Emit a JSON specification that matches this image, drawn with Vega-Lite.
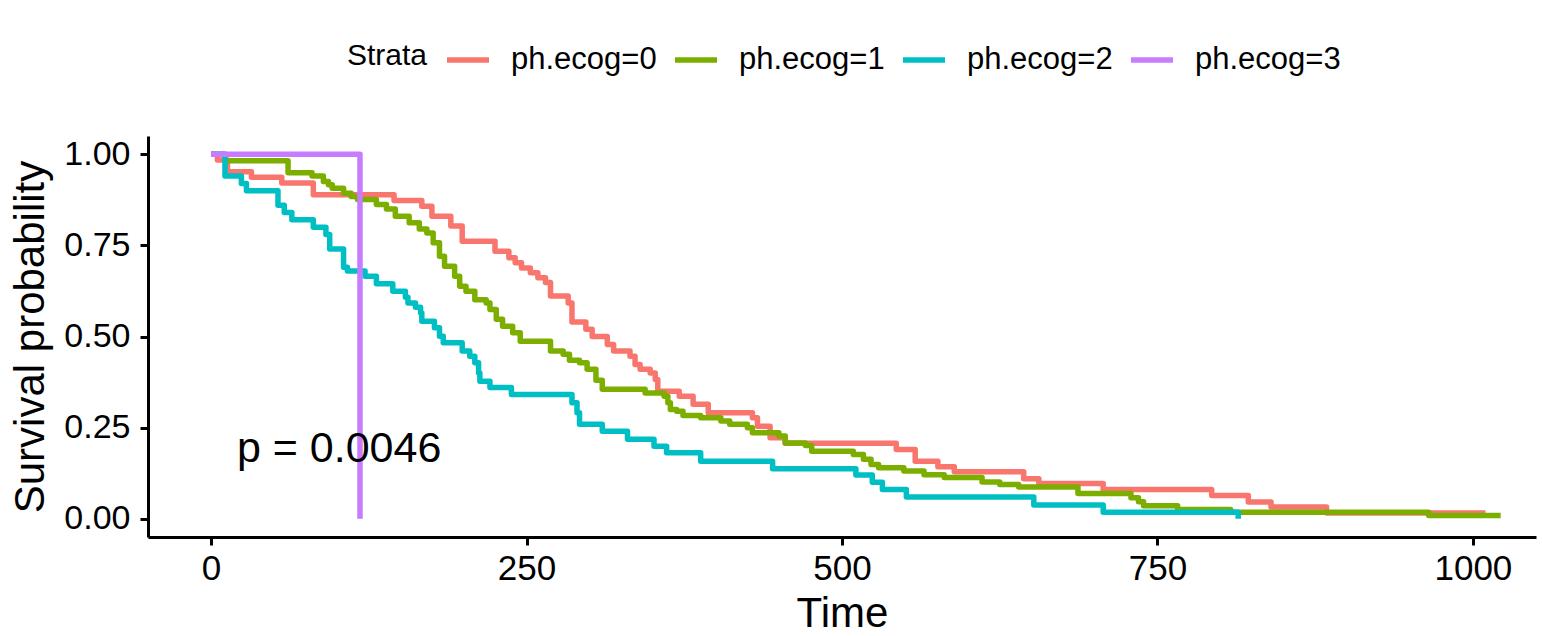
{
  "$schema": "https://vega.github.io/schema/vega-lite/v6.json",
  "width": 1388,
  "height": 401,
  "autosize": {"type": "none"},
  "padding": {"left": 148, "top": 136, "right": 6, "bottom": 99},
  "background": "white",
  "config": {"view": {"stroke": null}, "font": "Liberation Sans"},
  "datasets": {
    "km": [
      {"strata": "ph.ecog=0", "time": 0, "surv": 1},
      {"strata": "ph.ecog=0", "time": 5, "surv": 0.984},
      {"strata": "ph.ecog=0", "time": 13, "surv": 0.952},
      {"strata": "ph.ecog=0", "time": 32, "surv": 0.937},
      {"strata": "ph.ecog=0", "time": 56, "surv": 0.921},
      {"strata": "ph.ecog=0", "time": 81, "surv": 0.889},
      {"strata": "ph.ecog=0", "time": 145, "surv": 0.873},
      {"strata": "ph.ecog=0", "time": 167, "surv": 0.857},
      {"strata": "ph.ecog=0", "time": 175, "surv": 0.83},
      {"strata": "ph.ecog=0", "time": 190, "surv": 0.803},
      {"strata": "ph.ecog=0", "time": 199, "surv": 0.761},
      {"strata": "ph.ecog=0", "time": 225, "surv": 0.734},
      {"strata": "ph.ecog=0", "time": 236, "surv": 0.716},
      {"strata": "ph.ecog=0", "time": 241, "surv": 0.702},
      {"strata": "ph.ecog=0", "time": 246, "surv": 0.688},
      {"strata": "ph.ecog=0", "time": 253, "surv": 0.675},
      {"strata": "ph.ecog=0", "time": 259, "surv": 0.661},
      {"strata": "ph.ecog=0", "time": 265, "surv": 0.648},
      {"strata": "ph.ecog=0", "time": 269, "surv": 0.611},
      {"strata": "ph.ecog=0", "time": 283, "surv": 0.592},
      {"strata": "ph.ecog=0", "time": 286, "surv": 0.54},
      {"strata": "ph.ecog=0", "time": 297, "surv": 0.52},
      {"strata": "ph.ecog=0", "time": 302, "surv": 0.5},
      {"strata": "ph.ecog=0", "time": 314, "surv": 0.478},
      {"strata": "ph.ecog=0", "time": 319, "surv": 0.46},
      {"strata": "ph.ecog=0", "time": 332, "surv": 0.446},
      {"strata": "ph.ecog=0", "time": 336, "surv": 0.423},
      {"strata": "ph.ecog=0", "time": 340, "surv": 0.41},
      {"strata": "ph.ecog=0", "time": 348, "surv": 0.4},
      {"strata": "ph.ecog=0", "time": 352, "surv": 0.382},
      {"strata": "ph.ecog=0", "time": 354, "surv": 0.35},
      {"strata": "ph.ecog=0", "time": 371, "surv": 0.336},
      {"strata": "ph.ecog=0", "time": 382, "surv": 0.314},
      {"strata": "ph.ecog=0", "time": 394, "surv": 0.291},
      {"strata": "ph.ecog=0", "time": 429, "surv": 0.277},
      {"strata": "ph.ecog=0", "time": 433, "surv": 0.254},
      {"strata": "ph.ecog=0", "time": 443, "surv": 0.222},
      {"strata": "ph.ecog=0", "time": 455, "surv": 0.207},
      {"strata": "ph.ecog=0", "time": 543, "surv": 0.19},
      {"strata": "ph.ecog=0", "time": 558, "surv": 0.158},
      {"strata": "ph.ecog=0", "time": 576, "surv": 0.143},
      {"strata": "ph.ecog=0", "time": 589, "surv": 0.129},
      {"strata": "ph.ecog=0", "time": 644, "surv": 0.11},
      {"strata": "ph.ecog=0", "time": 656, "surv": 0.097},
      {"strata": "ph.ecog=0", "time": 707, "surv": 0.08},
      {"strata": "ph.ecog=0", "time": 793, "surv": 0.064},
      {"strata": "ph.ecog=0", "time": 822, "surv": 0.046},
      {"strata": "ph.ecog=0", "time": 840, "surv": 0.032},
      {"strata": "ph.ecog=0", "time": 884, "surv": 0.016},
      {"strata": "ph.ecog=0", "time": 1010, "surv": 0.016},

      {"strata": "ph.ecog=1", "time": 0, "surv": 1},
      {"strata": "ph.ecog=1", "time": 11, "surv": 0.982},
      {"strata": "ph.ecog=1", "time": 61, "surv": 0.949},
      {"strata": "ph.ecog=1", "time": 80, "surv": 0.94},
      {"strata": "ph.ecog=1", "time": 89, "surv": 0.925},
      {"strata": "ph.ecog=1", "time": 93, "surv": 0.916},
      {"strata": "ph.ecog=1", "time": 96, "surv": 0.907},
      {"strata": "ph.ecog=1", "time": 105, "surv": 0.893},
      {"strata": "ph.ecog=1", "time": 111, "surv": 0.884},
      {"strata": "ph.ecog=1", "time": 116, "surv": 0.876},
      {"strata": "ph.ecog=1", "time": 131, "surv": 0.862},
      {"strata": "ph.ecog=1", "time": 139, "surv": 0.85},
      {"strata": "ph.ecog=1", "time": 146, "surv": 0.83},
      {"strata": "ph.ecog=1", "time": 157, "surv": 0.812},
      {"strata": "ph.ecog=1", "time": 165, "surv": 0.795},
      {"strata": "ph.ecog=1", "time": 171, "surv": 0.784},
      {"strata": "ph.ecog=1", "time": 176, "surv": 0.757},
      {"strata": "ph.ecog=1", "time": 181, "surv": 0.72},
      {"strata": "ph.ecog=1", "time": 185, "surv": 0.693},
      {"strata": "ph.ecog=1", "time": 193, "surv": 0.665},
      {"strata": "ph.ecog=1", "time": 197, "surv": 0.638},
      {"strata": "ph.ecog=1", "time": 202, "surv": 0.624},
      {"strata": "ph.ecog=1", "time": 209, "surv": 0.601},
      {"strata": "ph.ecog=1", "time": 218, "surv": 0.592},
      {"strata": "ph.ecog=1", "time": 221, "surv": 0.574},
      {"strata": "ph.ecog=1", "time": 226, "surv": 0.547},
      {"strata": "ph.ecog=1", "time": 231, "surv": 0.528},
      {"strata": "ph.ecog=1", "time": 239, "surv": 0.51},
      {"strata": "ph.ecog=1", "time": 245, "surv": 0.487},
      {"strata": "ph.ecog=1", "time": 269, "surv": 0.46},
      {"strata": "ph.ecog=1", "time": 279, "surv": 0.451},
      {"strata": "ph.ecog=1", "time": 284, "surv": 0.435},
      {"strata": "ph.ecog=1", "time": 292, "surv": 0.428},
      {"strata": "ph.ecog=1", "time": 298, "surv": 0.41},
      {"strata": "ph.ecog=1", "time": 305, "surv": 0.38},
      {"strata": "ph.ecog=1", "time": 310, "surv": 0.355},
      {"strata": "ph.ecog=1", "time": 344, "surv": 0.345},
      {"strata": "ph.ecog=1", "time": 359, "surv": 0.336},
      {"strata": "ph.ecog=1", "time": 362, "surv": 0.318},
      {"strata": "ph.ecog=1", "time": 364, "surv": 0.3},
      {"strata": "ph.ecog=1", "time": 369, "surv": 0.295},
      {"strata": "ph.ecog=1", "time": 374, "surv": 0.283},
      {"strata": "ph.ecog=1", "time": 388, "surv": 0.277},
      {"strata": "ph.ecog=1", "time": 404, "surv": 0.268},
      {"strata": "ph.ecog=1", "time": 411, "surv": 0.259},
      {"strata": "ph.ecog=1", "time": 425, "surv": 0.25},
      {"strata": "ph.ecog=1", "time": 429, "surv": 0.236},
      {"strata": "ph.ecog=1", "time": 450, "surv": 0.227},
      {"strata": "ph.ecog=1", "time": 455, "surv": 0.208},
      {"strata": "ph.ecog=1", "time": 471, "surv": 0.201},
      {"strata": "ph.ecog=1", "time": 476, "surv": 0.185},
      {"strata": "ph.ecog=1", "time": 509, "surv": 0.176},
      {"strata": "ph.ecog=1", "time": 517, "surv": 0.163},
      {"strata": "ph.ecog=1", "time": 523, "surv": 0.149},
      {"strata": "ph.ecog=1", "time": 529, "surv": 0.14},
      {"strata": "ph.ecog=1", "time": 549, "surv": 0.131},
      {"strata": "ph.ecog=1", "time": 565, "surv": 0.121},
      {"strata": "ph.ecog=1", "time": 581, "surv": 0.113},
      {"strata": "ph.ecog=1", "time": 611, "surv": 0.101},
      {"strata": "ph.ecog=1", "time": 625, "surv": 0.094},
      {"strata": "ph.ecog=1", "time": 640, "surv": 0.087},
      {"strata": "ph.ecog=1", "time": 687, "surv": 0.069},
      {"strata": "ph.ecog=1", "time": 729, "surv": 0.058},
      {"strata": "ph.ecog=1", "time": 735, "surv": 0.047},
      {"strata": "ph.ecog=1", "time": 739, "surv": 0.036},
      {"strata": "ph.ecog=1", "time": 766, "surv": 0.0255},
      {"strata": "ph.ecog=1", "time": 808, "surv": 0.018},
      {"strata": "ph.ecog=1", "time": 965, "surv": 0.009},
      {"strata": "ph.ecog=1", "time": 1022, "surv": 0.009},

      {"strata": "ph.ecog=2", "time": 0, "surv": 1},
      {"strata": "ph.ecog=2", "time": 11, "surv": 0.94},
      {"strata": "ph.ecog=2", "time": 24, "surv": 0.92},
      {"strata": "ph.ecog=2", "time": 28, "surv": 0.9},
      {"strata": "ph.ecog=2", "time": 53, "surv": 0.86},
      {"strata": "ph.ecog=2", "time": 58, "surv": 0.84},
      {"strata": "ph.ecog=2", "time": 64, "surv": 0.82},
      {"strata": "ph.ecog=2", "time": 81, "surv": 0.8},
      {"strata": "ph.ecog=2", "time": 91, "surv": 0.78},
      {"strata": "ph.ecog=2", "time": 94, "surv": 0.74},
      {"strata": "ph.ecog=2", "time": 105, "surv": 0.69},
      {"strata": "ph.ecog=2", "time": 108, "surv": 0.68},
      {"strata": "ph.ecog=2", "time": 122, "surv": 0.665},
      {"strata": "ph.ecog=2", "time": 131, "surv": 0.645},
      {"strata": "ph.ecog=2", "time": 144, "surv": 0.624},
      {"strata": "ph.ecog=2", "time": 154, "surv": 0.608},
      {"strata": "ph.ecog=2", "time": 156, "surv": 0.592},
      {"strata": "ph.ecog=2", "time": 162, "surv": 0.58},
      {"strata": "ph.ecog=2", "time": 166, "surv": 0.565},
      {"strata": "ph.ecog=2", "time": 167, "surv": 0.542},
      {"strata": "ph.ecog=2", "time": 177, "surv": 0.524},
      {"strata": "ph.ecog=2", "time": 181, "surv": 0.501},
      {"strata": "ph.ecog=2", "time": 184, "surv": 0.483},
      {"strata": "ph.ecog=2", "time": 199, "surv": 0.46},
      {"strata": "ph.ecog=2", "time": 205, "surv": 0.446},
      {"strata": "ph.ecog=2", "time": 209, "surv": 0.428},
      {"strata": "ph.ecog=2", "time": 212, "surv": 0.4},
      {"strata": "ph.ecog=2", "time": 213, "surv": 0.377},
      {"strata": "ph.ecog=2", "time": 221, "surv": 0.36},
      {"strata": "ph.ecog=2", "time": 238, "surv": 0.341},
      {"strata": "ph.ecog=2", "time": 286, "surv": 0.318},
      {"strata": "ph.ecog=2", "time": 290, "surv": 0.291},
      {"strata": "ph.ecog=2", "time": 292, "surv": 0.259},
      {"strata": "ph.ecog=2", "time": 310, "surv": 0.24},
      {"strata": "ph.ecog=2", "time": 330, "surv": 0.218},
      {"strata": "ph.ecog=2", "time": 351, "surv": 0.199},
      {"strata": "ph.ecog=2", "time": 361, "surv": 0.181},
      {"strata": "ph.ecog=2", "time": 388, "surv": 0.158},
      {"strata": "ph.ecog=2", "time": 445, "surv": 0.137},
      {"strata": "ph.ecog=2", "time": 511, "surv": 0.12},
      {"strata": "ph.ecog=2", "time": 524, "surv": 0.1},
      {"strata": "ph.ecog=2", "time": 532, "surv": 0.08},
      {"strata": "ph.ecog=2", "time": 551, "surv": 0.06},
      {"strata": "ph.ecog=2", "time": 652, "surv": 0.038},
      {"strata": "ph.ecog=2", "time": 707, "surv": 0.018},
      {"strata": "ph.ecog=2", "time": 814, "surv": 0},

      {"strata": "ph.ecog=3", "time": 0, "surv": 1},
      {"strata": "ph.ecog=3", "time": 118, "surv": 0}
    ],
    "pval": [{"label": "p = 0.0046", "time": 20.44, "surv": 0.2}]
  },
  "layer": [
    {
      "data": {"name": "km"},
      "mark": {"type": "line", "interpolate": "step-after", "strokeWidth": 5.5, "strokeJoin": "round", "strokeCap": "butt"},
      "encoding": {
        "x": {
          "field": "time", "type": "quantitative",
          "scale": {"domain": [-50, 1050], "nice": false, "zero": false},
          "axis": {
            "values": [0, 250, 500, 750, 1000], "format": "d", "title": "Time",
            "grid": false, "labelFlush": false, "labelOverlap": false,
            "domainColor": "black", "domainWidth": 3, "tickColor": "black", "tickWidth": 3, "tickSize": 8,
            "labelFont": "Liberation Sans", "labelFontSize": 35, "labelColor": "black", "labelPadding": 6,
            "titleFont": "Liberation Sans", "titleFontSize": 42, "titleFontWeight": "normal", "titleColor": "black", "titlePadding": 7
          }
        },
        "y": {
          "field": "surv", "type": "quantitative",
          "scale": {"domain": [-0.05, 1.05], "nice": false, "zero": false},
          "axis": {
            "values": [0, 0.25, 0.5, 0.75, 1], "format": ".2f", "title": "Survival probability",
            "grid": false, "labelFlush": false, "labelOverlap": false,
            "domainColor": "black", "domainWidth": 3, "tickColor": "black", "tickWidth": 3, "tickSize": 8,
            "labelFont": "Liberation Sans", "labelFontSize": 34, "labelColor": "black", "labelPadding": 10,
            "titleFont": "Liberation Sans", "titleFontSize": 42, "titleFontWeight": "normal", "titleColor": "black", "titlePadding": 11
          }
        },
        "color": {
          "field": "strata", "type": "nominal",
          "scale": {"domain": ["ph.ecog=0", "ph.ecog=1", "ph.ecog=2", "ph.ecog=3"], "range": ["#F8766D", "#7CAE00", "#00BFC4", "#C77CFF"]},
          "legend": {
            "orient": "none", "legendX": 199, "legendY": -100, "direction": "horizontal",
            "title": "Strata", "titleOrient": "left", "titleAnchor": "middle", "titleBaseline": "middle",
            "titleFont": "Liberation Sans", "titleFontSize": 30, "titleFontWeight": "normal", "titleColor": "black", "titlePadding": 16,
            "labelFont": "Liberation Sans", "labelFontSize": 31, "labelColor": "black", "labelOffset": 19, "columnPadding": 7,
            "symbolType": "stroke", "symbolSize": 1764, "symbolStrokeWidth": 5.5, "symbolOpacity": 1
          }
        }
      }
    },
    {
      "data": {"name": "pval"},
      "mark": {"type": "text", "align": "left", "baseline": "middle", "dy": 3, "font": "Liberation Sans", "fontSize": 43, "color": "black"},
      "encoding": {
        "x": {"field": "time", "type": "quantitative"},
        "y": {"field": "surv", "type": "quantitative"},
        "text": {"field": "label"}
      }
    }
  ]
}
